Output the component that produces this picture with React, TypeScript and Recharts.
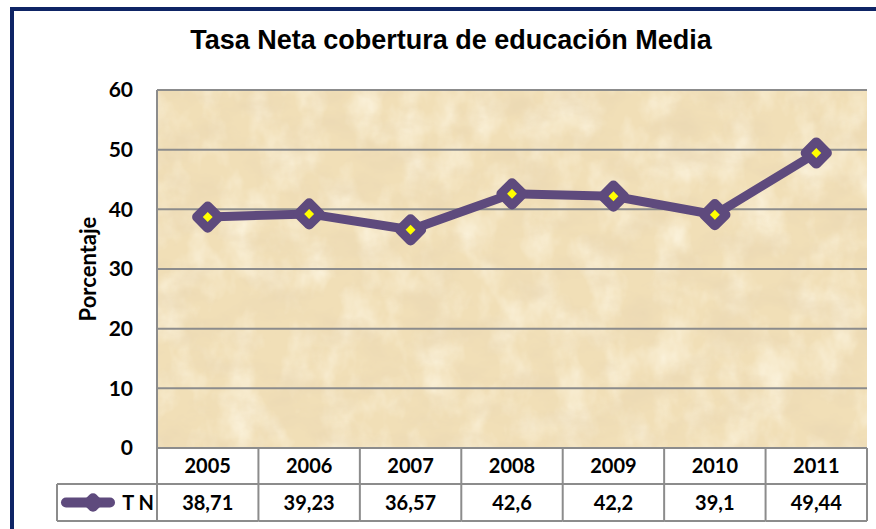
import React from 'react';
import { LineChart, Line, XAxis, YAxis, CartesianGrid, Label } from 'recharts';

const title = 'Tasa Neta cobertura de educación Media';
const yTitle = 'Porcentaje';
const seriesName = 'T N';
const years = ['2005', '2006', '2007', '2008', '2009', '2010', '2011'];
const tnValues = [38.71, 39.23, 36.57, 42.6, 42.2, 39.1, 49.44];
const tnLabels = ['38,71', '39,23', '36,57', '42,6', '42,2', '39,1', '49,44'];
const yTicks = [0, 10, 20, 30, 40, 50, 60];

const data = years.map((y, i) => ({ year: y, tn: tnValues[i], label: tnLabels[i] }));

const W = 876;
const H = 529;
const M = { top: 90, right: 9, bottom: 0, left: 0 };
const Y_AXIS_W = 157;
const X_AXIS_H = 81;
const PLOT_W = W - M.left - M.right - Y_AXIS_W;
const PLOT_H = H - M.top - M.bottom - X_AXIS_H;
const HALF = PLOT_W / (years.length * 2);
const ROW1 = 36;
const ROW2 = 37;
const LEGEND_W = 100;

const PURPLE = '#5E4A7D';
const YELLOW = '#FFFF00';
const GRID = '#8C8C8C';
const FONT = 'Lato, "Open Sans", sans-serif';

const Diamond = ({ cx, cy, size = 25, inner = 7 }: any) => {
  if (cx == null || cy == null) return null;
  return (
    <g>
      <rect x={cx - size / 2} y={cy - size / 2} width={size} height={size} rx={5} ry={5}
        fill={PURPLE} transform={`rotate(45 ${cx} ${cy})`} />
      {inner > 0 && (
        <rect x={cx - inner / 2} y={cy - inner / 2} width={inner} height={inner}
          fill={YELLOW} transform={`rotate(45 ${cx} ${cy})`} />
      )}
    </g>
  );
};

const TableTick = (props: any) => {
  const { x, y, payload } = props;
  const i = payload.index;
  const yMid = y + ROW1;
  const yBot = y + ROW1 + ROW2;
  const textStyle = { fontFamily: FONT, fontWeight: 700, fontSize: 20, fill: '#000' } as any;
  return (
    <g>
      <line x1={x - HALF} x2={x + HALF} y1={yMid} y2={yMid} stroke={GRID} strokeWidth={2} />
      <line x1={x - HALF} x2={x + HALF} y1={yBot} y2={yBot} stroke={GRID} strokeWidth={2} />
      <line x1={x + HALF} x2={x + HALF} y1={y} y2={yBot} stroke={GRID} strokeWidth={2} />
      {i === 0 && <line x1={x - HALF} x2={x - HALF} y1={y} y2={yBot} stroke={GRID} strokeWidth={2} />}
      <text x={x} y={y + ROW1 / 2} dy="0.36em" textAnchor="middle" style={textStyle}>{years[i]}</text>
      <text x={x} y={yMid + ROW2 / 2} dy="0.36em" textAnchor="middle" style={textStyle}>{tnLabels[i]}</text>
      {i === 0 && (
        <g>
          <line x1={x - HALF - LEGEND_W} x2={x - HALF} y1={yMid} y2={yMid} stroke={GRID} strokeWidth={2} />
          <line x1={x - HALF - LEGEND_W} x2={x - HALF} y1={yBot} y2={yBot} stroke={GRID} strokeWidth={2} />
          <line x1={x - HALF - LEGEND_W} x2={x - HALF - LEGEND_W} y1={yMid} y2={yBot} stroke={GRID} strokeWidth={2} />
          <line x1={x - HALF - LEGEND_W + 9} x2={x - HALF - 47} y1={yMid + ROW2 / 2} y2={yMid + ROW2 / 2}
            stroke={PURPLE} strokeWidth={10} strokeLinecap="round" />
          <Diamond cx={x - HALF - LEGEND_W + 36} cy={yMid + ROW2 / 2} size={16} inner={0} />
          <text x={x - HALF - 3} y={yMid + ROW2 / 2} dy="0.36em" textAnchor="end" style={textStyle}>{seriesName}</text>
        </g>
      )}
    </g>
  );
};

export default function App() {
  return (
    <div style={{ position: 'absolute', left: 0, top: 0, width: W, height: H, overflow: 'hidden', background: '#fff' }}>
      <div style={{ position: 'absolute', left: 10, top: 7, width: 900, height: 560, border: '4px solid #0E2465', boxSizing: 'border-box' }} />
      <svg style={{ position: 'absolute', left: M.left + Y_AXIS_W, top: M.top }} width={PLOT_W} height={PLOT_H}>
        <defs>
          <filter id="tex1" x="0" y="0" width="100%" height="100%">
            <feTurbulence type="fractalNoise" baseFrequency="0.02 0.035" numOctaves="5" seed="7" />
            <feColorMatrix type="matrix" values="0 0 0 0 0.82  0 0 0 0 0.68  0 0 0 0 0.45  1.6 0 0 0 -0.68" />
          </filter>
          <filter id="tex2" x="0" y="0" width="100%" height="100%">
            <feTurbulence type="fractalNoise" baseFrequency="0.03 0.02" numOctaves="4" seed="21" />
            <feColorMatrix type="matrix" values="0 0 0 0 0.99  0 0 0 0 0.94  0 0 0 0 0.80  1.6 0 0 0 -0.68" />
          </filter>
        </defs>
        <rect width="100%" height="100%" fill="#F1DFB7" />
        <rect width="100%" height="100%" filter="url(#tex2)" />
        <rect width="100%" height="100%" filter="url(#tex1)" />
      </svg>
      <div style={{ position: 'absolute', left: 0, top: 25, width: 902, textAlign: 'center', fontFamily: '"Liberation Sans", Arial, sans-serif', fontWeight: 700, fontSize: 27, color: '#000' }}>
        {title}
      </div>
      <div style={{ position: 'absolute', left: 0, top: 0 }}>
        <LineChart width={W} height={H} data={data} margin={M}>
          <CartesianGrid vertical={false} stroke={GRID} strokeWidth={2} />
          <XAxis dataKey="year" interval={0} height={X_AXIS_H} tickSize={0} tickMargin={0}
            padding={{ left: HALF, right: HALF }} axisLine={{ stroke: GRID, strokeWidth: 2 }} tickLine={false}
            tick={<TableTick />} />
          <YAxis width={Y_AXIS_W} domain={[0, 60]} ticks={yTicks} interval={0} tickSize={0} tickMargin={24}
            axisLine={{ stroke: GRID, strokeWidth: 2 }} tickLine={false}
            tick={{ fontFamily: FONT, fontWeight: 700, fontSize: 21, fill: '#000' }}>
            <Label value={yTitle} angle={-90} position="center" dx={10}
              style={{ fontFamily: FONT, fontWeight: 700, fontSize: 22, fill: '#000' }} />
          </YAxis>
          <Line type="linear" dataKey="tn" name={seriesName} stroke={PURPLE} strokeWidth={9}
            dot={<Diamond />} activeDot={false} isAnimationActive={false} />
        </LineChart>
      </div>
    </div>
  );
}
